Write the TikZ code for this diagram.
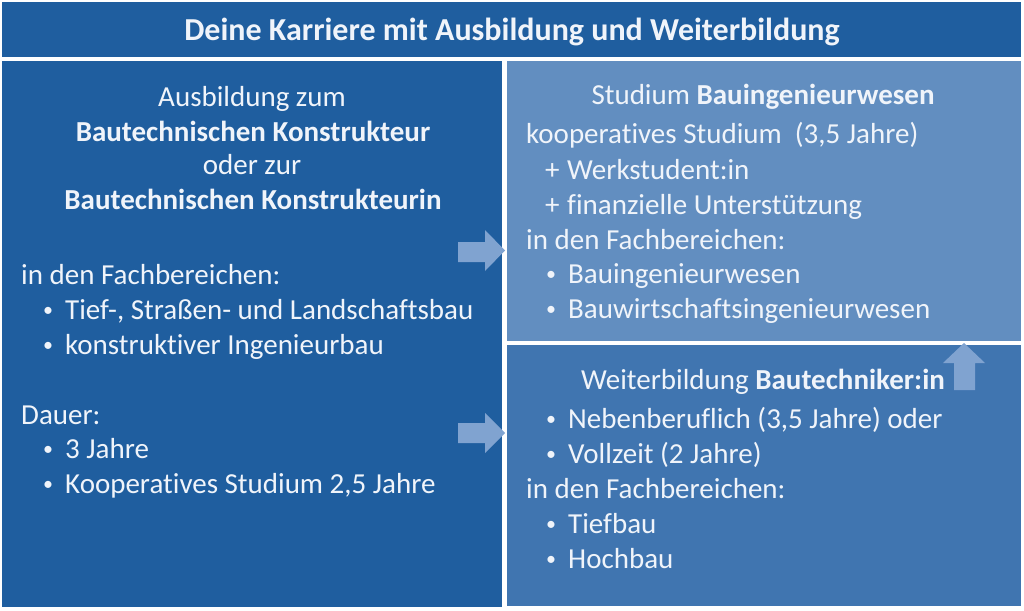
\documentclass[tikz,border=0pt]{standalone}
\usepackage{fontspec}
\setmainfont{Carlito}[Ligatures=NoCommon]
\definecolor{darkblue}{RGB}{31,94,159}
\definecolor{lightblue}{RGB}{98,142,192}
\definecolor{midblue}{RGB}{64,117,176}
\definecolor{arrowblue}{RGB}{128,163,208}
\definecolor{txt}{RGB}{240,244,250}
\begin{document}
\begin{tikzpicture}[x=1pt,y=-1pt,
  tx/.style={text=txt,font=\fontsize{29}{34}\selectfont,inner sep=0pt,anchor=base west},
  tc/.style={text=txt,font=\fontsize{29}{34}\selectfont,inner sep=0pt,anchor=base},
  tb/.style={tc,font=\fontsize{29}{34}\selectfont\bfseries},
  bul/.style={text=txt,font=\fontsize{20}{24}\selectfont,inner sep=0pt,anchor=base west,yshift=3pt},
  blockarrow/.style={fill=arrowblue,draw=none}]
\useasboundingbox (0,0) rectangle (1024,610);
\fill[white] (0,0) rectangle (1024,610);
% boxes
\fill[darkblue] (2,2) rectangle (1021,57);
\fill[darkblue] (2,61) rectangle (502,607);
\fill[lightblue] (507,61) rectangle (1021,341);
\fill[midblue] (507,345) rectangle (1021,606);
% header
\node[tc,font=\fontsize{32}{36}\selectfont\bfseries] (title) at (512,41) {Deine Karriere mit Ausbildung und Weiterbildung};
% left box
\node[tc] (l1) at (252,106) {Ausbildung zum};
\node[tb] (l2) at (253,141) {Bautechnischen Konstrukteur};
\node[tc] (l3) at (252,174) {oder zur};
\node[tb] (l4) at (253,209) {Bautechnischen Konstrukteurin};
\node[tx] (l5) at (21,284) {in den Fachbereichen:};
\node[bul] (b1) at (43,319) {•};
\node[tx] (l6) at (65,319) {Tief-, Straßen- und Landschaftsbau};
\node[bul] (b2) at (43,354) {•};
\node[tx] (l7) at (65,354) {konstruktiver Ingenieurbau};
\node[tx] (l8) at (21,424) {Dauer:};
\node[bul] (b3) at (43,458) {•};
\node[tx] (l9) at (65,458) {3 Jahre};
\node[bul] (b4) at (43,493) {•};
\node[tx] (l10) at (65,493) {Kooperatives Studium 2,5 Jahre};
% right top
\node[tc] (r1) at (763,104) {Studium \textbf{Bauingenieurwesen}};
\node[tx] (r2) at (526,143) {kooperatives Studium\ \ (3,5 Jahre)};
\node[tx] (p1) at (545,179) {+};
\node[tx] (r3) at (567,179) {Werkstudent:in};
\node[tx] (p2) at (545,214) {+};
\node[tx] (r4) at (567,214) {finanzielle Unterstützung};
\node[tx] (r5) at (526,249) {in den Fachbereichen:};
\node[bul] (b5) at (546,283) {•};
\node[tx] (r6) at (568,283) {Bauingenieurwesen};
\node[bul] (b6) at (546,318) {•};
\node[tx] (r7) at (568,318) {Bauwirtschaftsingenieurwesen};
% right bottom
\node[tc] (s1) at (763,389) {Weiterbildung \textbf{Bautechniker:in}};
\node[bul] (b7) at (546,428) {•};
\node[tx] (s2) at (568,428) {Nebenberuflich (3,5 Jahre) oder};
\node[bul] (b8) at (546,463) {•};
\node[tx] (s3) at (568,463) {Vollzeit (2 Jahre)};
\node[tx] (s4) at (526,498) {in den Fachbereichen:};
\node[bul] (b9) at (546,533) {•};
\node[tx] (s5) at (568,533) {Tiefbau};
\node[bul] (b10) at (546,568) {•};
\node[tx] (s6) at (568,568) {Hochbau};
% block arrows
\fill[blockarrow] (458,242) -- (485,242) -- (485,230) -- (505,250.5) -- (485,271) -- (485,262) -- (458,262) -- cycle;
\fill[blockarrow] (458,423) -- (485,423) -- (485,413) -- (505,433) -- (485,453) -- (485,443) -- (458,443) -- cycle;
\fill[blockarrow] (954,390) -- (954,363) -- (943,363) -- (964,343) -- (985,363) -- (975,363) -- (975,390) -- cycle;
\end{tikzpicture}
\end{document}
